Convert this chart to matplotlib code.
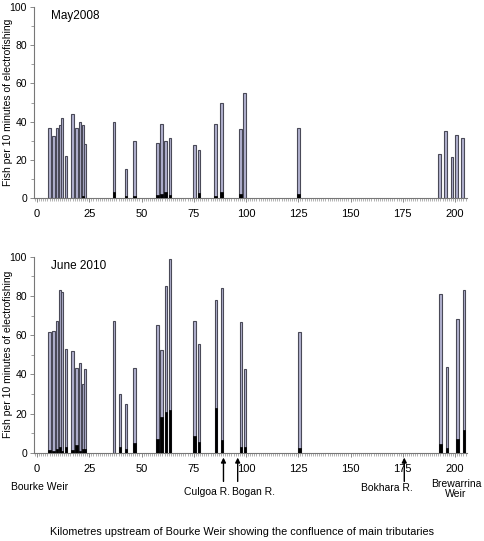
import matplotlib.pyplot as plt
from matplotlib.ticker import MultipleLocator

plt.rcParams['font.family'] = ['Liberation Sans', 'DejaVu Sans']

# May 2008 survey: site (km upstream), total fish, black part
km_2008 = [5.9, 7.8, 9.7, 10.9, 12.0, 13.9, 16.9, 18.8, 20.7, 21.9, 23.0,
           36.8, 42.6, 46.7, 57.6, 59.5, 61.4, 63.5, 75.3, 77.4, 85.3, 88.2,
           97.3, 99.2, 125.0, 192.6, 195.4, 198.6, 200.6, 203.5]
tot_2008 = [36.6, 32.6, 36.6, 38.4, 42, 22, 44, 36.6, 40, 38, 28.4,
            40, 15, 30, 29, 39, 29.7, 31.6, 28, 25, 39, 50,
            36, 55, 36.5, 22.9, 35, 21.6, 32.8, 31.6]
blk_2008 = [0, 0, 0, 0, 0, 0, 0, 0, 0, 1, 0,
            3, 1, 1, 1.5, 2, 3, 1.5, 0, 2.5, 1, 3,
            2, 0, 2, 0, 0, 0, 0, 0]

# June 2010 survey
km_2010 = [5.9, 7.8, 9.7, 10.9, 12.0, 13.9, 16.9, 18.8, 20.7, 21.9, 23.0,
           36.8, 39.7, 42.6, 46.7, 57.6, 59.5, 61.6, 63.6, 75.4, 77.5, 85.5,
           88.4, 97.6, 99.5, 125.5, 193.1, 196.2, 201.1, 204.2]
tot_2010 = [61.4, 62, 67, 83, 82, 53, 51.7, 43, 45.6, 35, 42.5,
            67, 30, 25, 43.5, 65.3, 52.4, 85.2, 99, 67, 55.3, 77.7,
            83.8, 66.5, 42.7, 61.4, 81.1, 43.6, 68, 82.9]
blk_2010 = [1.5, 1, 2, 3, 1, 3, 1.5, 4, 1, 2, 2,
            0, 3, 2, 5, 7, 18.4, 21, 21.6, 8.5, 5.4, 22.6,
            6.5, 2.9, 2.9, 2.5, 4.3, 2.6, 7, 11.6]

tribs = ['Culgoa R.', 'Bogan R.', 'Bokhara R.']
trib_km = [89.2, 96.0, 175.7]

face = '#b2b2d0'
edge = '#4a4a58'
axcol = '#777777'

fig = plt.figure(figsize=(4.84, 5.41), dpi=100)
ax1 = fig.add_axes([0.070, 0.634, 0.894, 0.353])
ax2 = fig.add_axes([0.070, 0.163, 0.894, 0.3625])

for ax, km, tot, blk, title in [(ax1, km_2008, tot_2008, blk_2008, 'May2008'),
                                (ax2, km_2010, tot_2010, blk_2010, 'June 2010')]:
    ax.bar(km, tot, width=1.15, color=face, edgecolor=edge, linewidth=0.8, zorder=2)
    ax.bar(km, blk, width=1.15, color='black', edgecolor='black', linewidth=0.5, zorder=3)
    ax.set_xlim(-1.5, 205.5)
    ax.set_ylim(0, 100)
    for s in ['top', 'right']:
        ax.spines[s].set_visible(False)
    for s in ['left', 'bottom']:
        ax.spines[s].set_color(axcol)
        ax.spines[s].set_linewidth(0.8)
    ax.xaxis.set_major_locator(MultipleLocator(25))
    ax.xaxis.set_minor_locator(MultipleLocator(1))
    ax.yaxis.set_major_locator(MultipleLocator(20))
    ax.yaxis.set_minor_locator(MultipleLocator(10))
    ax.tick_params(axis='both', which='both', color=axcol, pad=2)
    ax.tick_params(axis='x', which='major', length=3, width=0.6, pad=5, labelsize=8)
    ax.tick_params(axis='x', which='minor', length=2.5, width=0.4)
    ax.tick_params(axis='y', which='major', length=3, width=0.6, labelsize=7.5)
    ax.tick_params(axis='y', which='minor', length=2, width=0.5)
    ax.set_ylabel('Fish per 10 minutes of electrofishing', fontsize=7.5)
    ax.yaxis.set_label_coords(-0.048, 0.5)
    ax.text(0.04, 0.985, title, transform=ax.transAxes, fontsize=8.5,
            va='top', ha='left')

for name, k in zip(tribs, trib_km):
    ax2.annotate('', xy=(k, -1), xycoords='data',
                 xytext=(k, -16), textcoords='data',
                 arrowprops=dict(arrowstyle='-|>', color='black', lw=1.0,
                                 mutation_scale=7),
                 annotation_clip=False)

fig.text(40 / 484, 1 - 487 / 541, 'Bourke Weir', fontsize=7.5, ha='center', va='center')
fig.text(207 / 484, 1 - 492 / 541, tribs[0], fontsize=7.5, ha='center', va='center')
fig.text(253 / 484, 1 - 492 / 541, tribs[1], fontsize=7.5, ha='center', va='center')
fig.text(387 / 484, 1 - 488 / 541, tribs[2], fontsize=7.5, ha='center', va='center')
fig.text(456 / 484, 1 - 489 / 541, 'Brewarrina\nWeir', fontsize=7.5, ha='center',
         va='center', linespacing=1.1)
fig.text(0.5, 1 - 532 / 541,
         'Kilometres upstream of Bourke Weir showing the confluence of main tributaries',
         fontsize=7.8, ha='center', va='center')

fig.savefig('out.png', dpi=100)
